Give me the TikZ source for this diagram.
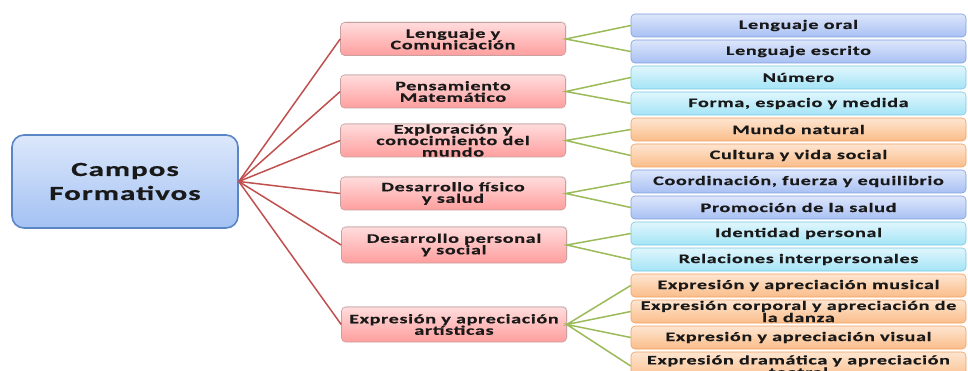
\documentclass[tikz,border=0pt]{standalone}
\usepackage{fontspec}
\setmainfont{Carlito}[FakeStretch=1.55,LetterSpace=5,BoldFeatures={FakeBold=0.5}]
\usetikzlibrary{shadows}
\definecolor{RootTop}{HTML}{DCE8FB}
\definecolor{RootBottom}{HTML}{A3C1F3}
\definecolor{RootLine}{HTML}{5A86C5}
\definecolor{AreaTop}{HTML}{FFDCDC}
\definecolor{AreaBottom}{HTML}{FF9E9E}
\definecolor{AreaLine}{HTML}{C8A0A0}
\definecolor{BlueTop}{HTML}{DDE6FB}
\definecolor{BlueBottom}{HTML}{A8C0F3}
\definecolor{BlueLine}{HTML}{7D9FDD}
\definecolor{CyanTop}{HTML}{E0F6FD}
\definecolor{CyanBottom}{HTML}{A4E4F6}
\definecolor{CyanLine}{HTML}{78C8E0}
\definecolor{OrangeTop}{HTML}{FDE5D0}
\definecolor{OrangeBottom}{HTML}{FBBD8A}
\definecolor{OrangeLine}{HTML}{F0A060}
\definecolor{BranchRed}{HTML}{C0504D}
\definecolor{LeafGreen}{HTML}{9BBB59}

\tikzset{
  campo/.style={draw=RootLine, line width=1.6pt, rounded corners=12pt,
    top color=RootTop, bottom color=RootBottom, minimum width=226pt,
    minimum height=93pt, inner sep=0pt, align=center, text=black!90,
    font=\fontsize{20}{24}\selectfont\bfseries},
  area/.style={draw=AreaLine, line width=0.6pt, rounded corners=4pt,
    top color=AreaTop, bottom color=AreaBottom, minimum width=225pt,
    minimum height=33pt, inner sep=0pt, align=center, text=black!90,
    font=\fontsize{13}{11.5}\selectfont\bfseries,
    drop shadow={opacity=0.2, shadow xshift=1pt, shadow yshift=1pt}},
  aspecto/.style={line width=0.6pt, rounded corners=4pt, minimum width=335pt,
    minimum height=23pt, inner sep=0pt, align=center, text=black!90,
    font=\fontsize{13}{11}\selectfont\bfseries},
  azul/.style={aspecto, draw=BlueLine, top color=BlueTop, bottom color=BlueBottom},
  celeste/.style={aspecto, draw=CyanLine, top color=CyanTop, bottom color=CyanBottom},
  naranja/.style={aspecto, draw=OrangeLine, top color=OrangeTop, bottom color=OrangeBottom},
  rama/.style={draw=BranchRed, line width=1.5pt},
  hoja/.style={draw=LeafGreen, line width=1.5pt}
}

\begin{document}
\begin{tikzpicture}[x=1pt, y=-1pt]
    \clip (0,0) rectangle (968,371);

    \node[campo] (campos) at (125,181.5) {Campos\\Formativos};

    \node[area] (lenguaje) at (453,39) {Lenguaje y\\Comunicación};
    \node[area] (pensamiento) at (453,91.5) {Pensamiento\\Matemático};
    \node[area] (exploracion) at (453,140.5) {Exploración y\\conocimiento del\\mundo};
    \node[area] (fisico) at (453,193.5) {Desarrollo físico\\y salud};
    \node[area, minimum height=36pt] (personal) at (454,245) {Desarrollo personal\\y social};
    \node[area, minimum height=35pt] (artes) at (454,324.5) {Expresión y apreciación\\artísticas};

    \node[azul] (oral) at (798.5,25.5) {Lenguaje oral};
    \node[azul] (escrito) at (798.5,51.5) {Lenguaje escrito};
    \node[celeste] (numero) at (798.5,77.5) {Número};
    \node[celeste] (forma) at (798.5,103.5) {Forma, espacio y medida};
    \node[naranja] (natural) at (798.5,129.5) {Mundo natural};
    \node[naranja] (cultura) at (798.5,155.5) {Cultura y vida social};
    \node[azul] (coordinacion) at (798.5,181.5) {Coordinación, fuerza y equilibrio};
    \node[azul] (promocion) at (798.5,207.5) {Promoción de la salud};
    \node[celeste] (identidad) at (798.5,233.5) {Identidad personal};
    \node[celeste] (relaciones) at (798.5,259.5) {Relaciones interpersonales};
    \node[naranja] (musical) at (798.5,285.5) {Expresión y apreciación musical};
    \node[naranja] (danza) at (798.5,311.5) {Expresión corporal y apreciación de\\la danza};
    \node[naranja] (visual) at (798.5,337.5) {Expresión y apreciación visual};
    \node[naranja, minimum height=28pt] (teatral) at (798.5,366) {Expresión dramática y apreciación\\teatral};

    \draw[rama] (campos.east) -- (lenguaje.west);
    \draw[rama] (campos.east) -- (pensamiento.west);
    \draw[rama] (campos.east) -- (exploracion.west);
    \draw[rama] (campos.east) -- (fisico.west);
    \draw[rama] (campos.east) -- (personal.west);
    \draw[rama] (campos.east) -- (artes.west);

    \draw[hoja] (oral.west) -- (lenguaje.east) -- (escrito.west);
    \draw[hoja] (numero.west) -- (pensamiento.east) -- (forma.west);
    \draw[hoja] (natural.west) -- (exploracion.east) -- (cultura.west);
    \draw[hoja] (coordinacion.west) -- (fisico.east) -- (promocion.west);
    \draw[hoja] (identidad.west) -- (personal.east) -- (relaciones.west);
    \draw[hoja] (musical.west) -- (artes.east) -- (danza.west);
    \draw[hoja] (visual.west) -- (artes.east) -- (teatral.west);
\end{tikzpicture}
\end{document}
